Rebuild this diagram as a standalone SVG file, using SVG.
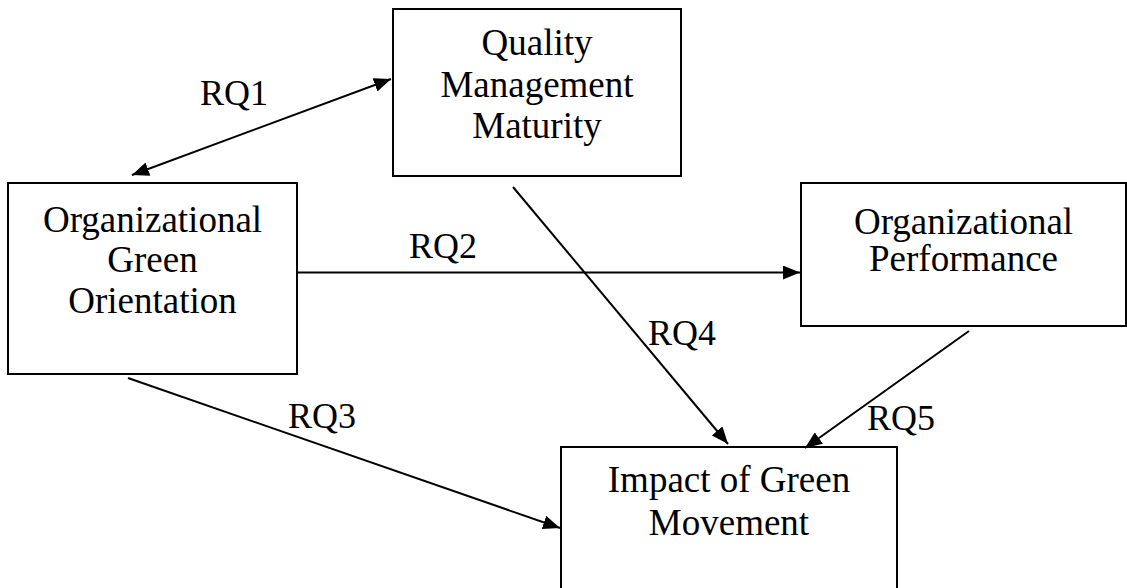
<svg xmlns="http://www.w3.org/2000/svg" width="1127" height="588" viewBox="0 0 1127 588">
<style>
.box{fill:#fff;stroke:#000;stroke-width:2}
.t{font-family:"Liberation Serif","Times New Roman",serif;font-size:37px;fill:#000;text-anchor:middle}
.l{font-family:"Liberation Serif","Times New Roman",serif;font-size:36px;fill:#000}
.c{stroke:#000;stroke-width:2;fill:none}
</style>
<defs>
<marker id="ah" markerUnits="userSpaceOnUse" markerWidth="18" markerHeight="14" refX="17" refY="7" orient="auto-start-reverse">
<path d="M0,0 L17,7 L0,14 z" fill="#000"/>
</marker>
</defs>
<rect width="1127" height="588" fill="#fff"/>
<g id="qmm">
<rect class="box" x="393" y="9" width="288" height="167"/>
<text class="t" x="537" y="55">Quality</text>
<text class="t" x="537" y="97">Management</text>
<text class="t" x="537" y="138">Maturity</text>
</g>
<g id="ogo">
<rect class="box" x="8" y="183" width="289" height="191"/>
<text class="t" x="152.5" y="232">Organizational</text>
<text class="t" x="152.5" y="272">Green</text>
<text class="t" x="152.5" y="313">Orientation</text>
</g>
<g id="op">
<rect class="box" x="801" y="183" width="325" height="143"/>
<text class="t" x="963.5" y="234">Organizational</text>
<text class="t" x="963.5" y="271">Performance</text>
</g>
<g id="igm">
<rect class="box" x="561" y="447" width="336" height="150"/>
<text class="t" x="729" y="492">Impact of Green</text>
<text class="t" x="729" y="535">Movement</text>
</g>
<g id="connectors">
<line class="c" x1="132" y1="175" x2="391" y2="79" marker-start="url(#ah)" marker-end="url(#ah)"/>
<line class="c" x1="297" y1="272.5" x2="800" y2="272.5" marker-end="url(#ah)"/>
<line class="c" x1="128" y1="378" x2="560" y2="528" marker-end="url(#ah)"/>
<line class="c" x1="513" y1="187" x2="728" y2="444" marker-end="url(#ah)"/>
<line class="c" x1="969" y1="331" x2="805" y2="448" marker-end="url(#ah)"/>
</g>
<g id="labels">
<text class="l" x="200" y="105">RQ1</text>
<text class="l" x="409" y="258">RQ2</text>
<text class="l" x="288" y="428">RQ3</text>
<text class="l" x="648" y="345">RQ4</text>
<text class="l" x="867" y="430">RQ5</text>
</g>
</svg>
